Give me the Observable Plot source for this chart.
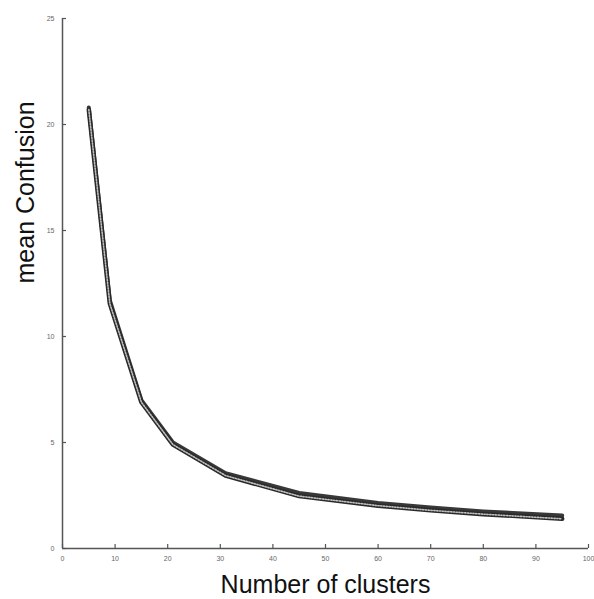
<!DOCTYPE html>
<html>
<head>
<meta charset="utf-8">
<script src="https://cdn.jsdelivr.net/npm/d3@7"></script>
<script src="https://cdn.jsdelivr.net/npm/@observablehq/plot@0.6"></script>
<style>
  html, body { margin: 0; padding: 0; background: #fff; }
  #chart svg { display: block; }
</style>
</head>
<body>
<div id="chart"></div>
<script>
// Number of clusters (x) and mean confusion
const clusters = [5, 9, 15, 21, 31, 45, 60, 70, 80, 95];
const upperSeries = [20.8, 11.7, 7.0, 5.0, 3.55, 2.62, 2.15, 1.93, 1.75, 1.56];
const lowerSeries = [20.7, 11.55, 6.9, 4.9, 3.44, 2.47, 2.02, 1.8, 1.62, 1.4];
const xTicks = [0, 10, 20, 30, 40, 50, 60, 70, 80, 90, 100];
const yTicks = [0, 5, 10, 15, 20, 25];
const xTitle = "Number of clusters";
const yTitle = "mean Confusion";

const upper = clusters.map((x, i) => ({x, y: upperSeries[i]}));
const lower = clusters.map((x, i) => ({x, y: lowerSeries[i]}));

const chart = Plot.plot({
  width: 594,
  height: 599,
  marginLeft: 62,
  marginRight: 6,
  marginTop: 18,
  marginBottom: 51,
  style: {fontFamily: "'Liberation Sans', Arial, sans-serif", background: "#fff"},
  x: {domain: [0, 100]},
  y: {domain: [0, 25]},
  marks: [
    Plot.ruleX([0], {stroke: "#555", strokeWidth: 1.5}),
    Plot.ruleY([0], {stroke: "#555", strokeWidth: 1.5}),
    Plot.axisX({ticks: xTicks, tickSize: -4, tickPadding: 12, fontSize: 7, fill: "#666", stroke: "#555", strokeWidth: 1.2, label: null, tickFormat: d => d}),
    Plot.axisY({ticks: yTicks, tickSize: -4, tickPadding: 12, fontSize: 7, fill: "#666", stroke: "#555", strokeWidth: 1.2, label: null, tickFormat: d => d}),
    Plot.line(upper, {x: "x", y: "y", stroke: "#222", strokeWidth: 4, strokeOpacity: 0.9}),
    Plot.line(lower, {x: "x", y: "y", stroke: "#2a2a2a", strokeWidth: 4.5}),
    Plot.line(lower, {x: "x", y: "y", stroke: "#fff", strokeWidth: 1.6, strokeDasharray: "1.2,1.6", strokeOpacity: 0.7}),
    Plot.text([xTitle], {frameAnchor: "bottom", dy: 36, fontSize: 25, fill: "#111", lineAnchor: "middle"}),
    Plot.text([yTitle], {frameAnchor: "left", dx: -37, rotate: -90, fontSize: 25, fill: "#111", lineAnchor: "middle"})
  ]
});
document.getElementById("chart").appendChild(chart);
</script>
</body>
</html>
